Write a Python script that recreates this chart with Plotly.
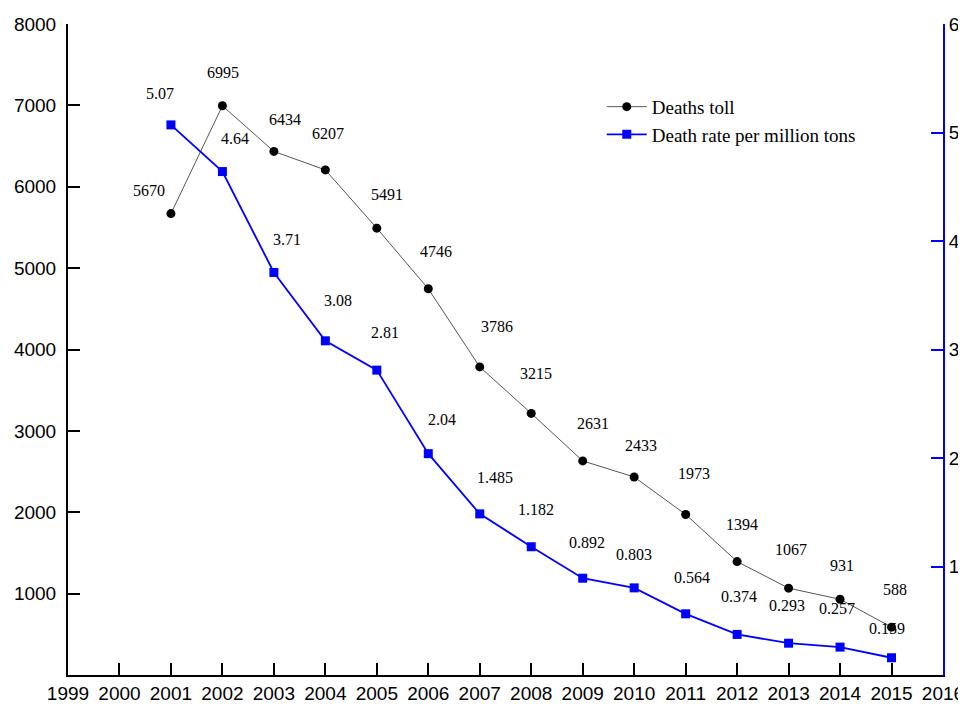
import plotly.graph_objects as go

years = list(range(2001, 2016))
deaths_toll = [5670, 6995, 6434, 6207, 5491, 4746, 3786, 3215, 2631, 2433, 1973, 1394, 1067, 931, 588]
death_rate = [5.07, 4.64, 3.71, 3.08, 2.81, 2.04, 1.485, 1.182, 0.892, 0.803, 0.564, 0.374, 0.293, 0.257, 0.159]
death_rate_labels = ["5.07", "4.64", "3.71", "3.08", "2.81", "2.04", "1.485", "1.182", "0.892", "0.803",
                     "0.564", "0.374", "0.293", "0.257", "0.159"]
x_ticks = list(range(1999, 2017))
left_ticks = [1000, 2000, 3000, 4000, 5000, 6000, 7000, 8000]
right_ticks = [1, 2, 3, 4, 5, 6]

# label placement offsets (pixels) - style only
toll_dx = [-22, 1, 11, 3, 10, 8, 17, 5, 10, 7, 8, 5, 2, 2, 3]
toll_dy = [23, 33, 32, 36, 34, 37, 40, 40, 37, 32, 41, 37, 39, 34, 38]
rate_dx = [-11, 13, 13, 13, 8, 14, 15, 5, 4, 0, 6, 2, -2, -3, -5]
rate_dy = [31, 33, 33, 40, 38, 34, 36, 37, 36, 33, 36, 38, 38, 39, 29]

SERIF = "Liberation Serif, Times New Roman, serif"
SANS = "Liberation Sans, Arial, sans-serif"

fig = go.Figure()
fig.add_trace(go.Scatter(
    x=years, y=deaths_toll, name="Deaths toll", mode="lines+markers",
    line=dict(color="#555555", width=1),
    marker=dict(symbol="circle", size=9, color="black"),
    yaxis="y"))
fig.add_trace(go.Scatter(
    x=years, y=death_rate, name="Death rate per million tons", mode="lines+markers",
    line=dict(color="#0000ff", width=1.8),
    marker=dict(symbol="square", size=9, color="#0000ff"),
    yaxis="y2"))

annotations = []
for i, yr in enumerate(years):
    annotations.append(dict(x=yr, y=deaths_toll[i], xref="x", yref="y", text=str(deaths_toll[i]),
                            showarrow=False, xshift=toll_dx[i], yshift=toll_dy[i],
                            font=dict(family=SERIF, size=16, color="black")))
    annotations.append(dict(x=yr, y=death_rate[i], xref="x", yref="y2", text=death_rate_labels[i],
                            showarrow=False, xshift=rate_dx[i], yshift=rate_dy[i],
                            font=dict(family=SERIF, size=16, color="black")))

fig.update_layout(
    width=958, height=697,
    margin=dict(l=60, r=23, t=16, b=30, autoexpand=False),
    plot_bgcolor="white", paper_bgcolor="white",
    showlegend=True,
    legend=dict(x=0.61, y=0.902, xanchor="left", yanchor="top",
                font=dict(family=SERIF, size=19, color="black"),
                bgcolor="rgba(0,0,0,0)", tracegroupgap=0, itemwidth=40),
    xaxis=dict(range=[1999, 2016], tickvals=x_ticks, ticktext=[str(v) for v in x_ticks],
               showgrid=False, zeroline=False, showline=True, linecolor="black", linewidth=2,
               ticks="inside", ticklen=12, tickwidth=2, tickcolor="black",
               tickfont=dict(family=SANS, size=19, color="black"), automargin=False),
    yaxis=dict(range=[0, 8000], tickvals=left_ticks, showgrid=False, zeroline=False,
               showline=True, linecolor="black", linewidth=2,
               ticks="inside", ticklen=12, tickwidth=2, tickcolor="black",
               tickfont=dict(family=SANS, size=19, color="black"), automargin=False,
               ticklabelstandoff=6),
    yaxis2=dict(range=[0, 6], tickvals=right_ticks, overlaying="y", side="right",
                showgrid=False, zeroline=False, showline=True, linecolor="#0000ff", linewidth=2,
                ticks="inside", ticklen=12, tickwidth=2, tickcolor="#0000ff",
                tickfont=dict(family=SANS, size=19, color="black"), automargin=False),
    annotations=annotations,
)

fig.write_html("out.html")
